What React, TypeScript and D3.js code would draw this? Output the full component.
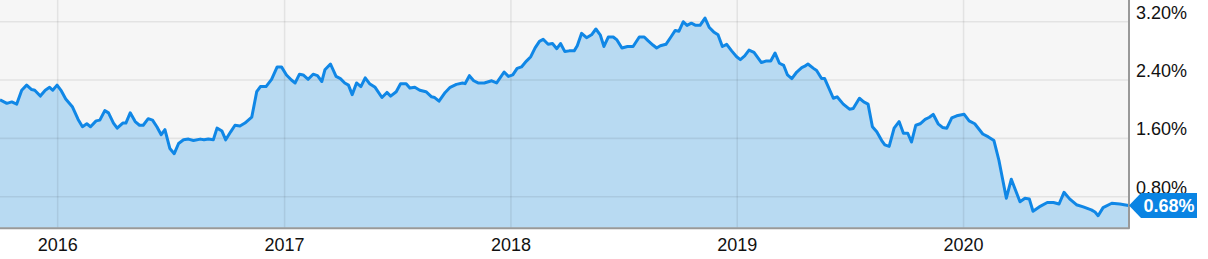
import React from "react";
import * as d3 from "d3";

const dates: string[] = [
  "2015-09-30","2015-10-11","2015-10-19","2015-10-27","2015-11-04","2015-11-12","2015-11-20","2015-11-25","2015-12-04","2015-12-12","2015-12-19","2015-12-24","2015-12-31",
  "2016-01-07","2016-01-14","2016-01-25","2016-02-03","2016-02-10","2016-02-17","2016-02-23","2016-03-03","2016-03-09","2016-03-17","2016-03-23","2016-03-31","2016-04-06","2016-04-15","2016-04-20","2016-04-27","2016-05-05","2016-05-12","2016-05-18","2016-05-26","2016-06-02","2016-06-09","2016-06-16","2016-06-22","2016-06-30","2016-07-07","2016-07-14","2016-07-22","2016-07-30","2016-08-07","2016-08-18","2016-08-24","2016-08-31","2016-09-08","2016-09-14","2016-09-22","2016-09-28","2016-10-06","2016-10-13","2016-10-21","2016-10-29","2016-11-09","2016-11-17","2016-11-23","2016-12-02","2016-12-11","2016-12-20","2016-12-27",
  "2017-01-04","2017-01-12","2017-01-18","2017-01-25","2017-01-31","2017-02-08","2017-02-16","2017-02-23","2017-03-02","2017-03-07","2017-03-16","2017-03-25","2017-04-01","2017-04-08","2017-04-14","2017-04-20","2017-04-27","2017-05-04","2017-05-11","2017-05-18","2017-05-27","2017-06-07","2017-06-15","2017-06-21","2017-06-30","2017-07-07","2017-07-16","2017-07-22","2017-07-30","2017-08-07","2017-08-17","2017-08-26","2017-08-31","2017-09-07","2017-09-17","2017-09-25","2017-10-05","2017-10-15","2017-10-19","2017-10-26","2017-11-02","2017-11-09","2017-11-19","2017-12-01","2017-12-09","2017-12-21","2017-12-28",
  "2018-01-04","2018-01-11","2018-01-18","2018-01-26","2018-02-02","2018-02-09","2018-02-16","2018-02-22","2018-03-02","2018-03-09","2018-03-16","2018-03-22","2018-03-29","2018-04-05","2018-04-13","2018-04-18","2018-04-25","2018-05-03","2018-05-11","2018-05-18","2018-05-25","2018-05-31","2018-06-07","2018-06-15","2018-06-21","2018-06-29","2018-07-08","2018-07-17","2018-07-27","2018-08-04","2018-08-10","2018-08-18","2018-08-24","2018-08-30","2018-09-08","2018-09-16","2018-09-23","2018-09-29","2018-10-06","2018-10-12","2018-10-19","2018-10-26","2018-11-02","2018-11-10","2018-11-17","2018-11-24","2018-12-01","2018-12-08","2018-12-15","2018-12-23","2018-12-31",
  "2019-01-06","2019-01-13","2019-01-20","2019-01-28","2019-02-09","2019-02-16","2019-02-24","2019-03-03","2019-03-10","2019-03-17","2019-03-23","2019-03-30","2019-04-07","2019-04-15","2019-04-20","2019-04-25","2019-05-04","2019-05-09","2019-05-17","2019-05-22","2019-06-05","2019-06-11","2019-06-21","2019-07-01","2019-07-07","2019-07-17","2019-07-24","2019-07-31","2019-08-07","2019-08-14","2019-08-22","2019-08-27","2019-09-03","2019-09-11","2019-09-19","2019-09-26","2019-10-03","2019-10-09","2019-10-16","2019-10-23","2019-10-31","2019-11-07","2019-11-13","2019-11-21","2019-11-28","2019-12-05","2019-12-13","2019-12-21",
  "2020-01-02","2020-01-10","2020-01-19","2020-02-01","2020-02-10","2020-02-19","2020-02-27","2020-03-10","2020-03-18","2020-04-01","2020-04-09","2020-04-16","2020-04-22","2020-05-02","2020-05-15","2020-05-25","2020-06-03","2020-06-11","2020-06-20","2020-07-01","2020-07-12","2020-07-25","2020-07-31","2020-08-05","2020-08-13","2020-08-27","2020-09-09","2020-09-23",
];

const yields: number[] = [
  2.13,2.08,2.10,2.07,2.26,2.33,2.27,2.26,2.18,2.26,2.30,2.26,2.33,
  2.25,2.14,2.03,1.86,1.76,1.80,1.76,1.84,1.85,1.98,1.95,1.81,1.74,1.81,1.81,1.95,1.83,1.78,1.78,1.87,1.85,1.76,1.65,1.72,1.46,1.39,1.53,1.58,1.59,1.57,1.59,1.58,1.59,1.58,1.74,1.70,1.58,1.69,1.78,1.77,1.81,1.89,2.24,2.31,2.31,2.41,2.58,2.58,
  2.47,2.40,2.36,2.48,2.47,2.41,2.48,2.46,2.38,2.54,2.62,2.45,2.42,2.36,2.33,2.20,2.36,2.31,2.43,2.35,2.30,2.16,2.23,2.18,2.24,2.35,2.35,2.29,2.30,2.26,2.24,2.17,2.16,2.11,2.23,2.30,2.34,2.36,2.35,2.46,2.39,2.36,2.36,2.39,2.36,2.51,2.45,
  2.47,2.56,2.58,2.66,2.72,2.84,2.93,2.96,2.89,2.90,2.83,2.90,2.79,2.80,2.80,2.87,3.04,2.98,3.02,3.10,3.02,2.86,2.99,2.99,2.95,2.84,2.86,2.86,2.99,2.99,2.94,2.88,2.84,2.87,2.89,2.99,3.08,3.07,3.20,3.15,3.18,3.15,3.15,3.25,3.12,3.06,3.02,2.86,2.89,2.80,2.72,
  2.68,2.73,2.81,2.78,2.64,2.66,2.66,2.77,2.63,2.60,2.47,2.42,2.51,2.57,2.59,2.62,2.56,2.53,2.42,2.42,2.15,2.17,2.07,2.00,2.01,2.15,2.10,2.07,1.76,1.69,1.57,1.51,1.49,1.74,1.83,1.67,1.67,1.55,1.78,1.80,1.86,1.89,1.93,1.80,1.75,1.74,1.88,1.91,
  1.93,1.84,1.80,1.66,1.62,1.57,1.30,0.78,1.04,0.73,0.78,0.77,0.60,0.66,0.72,0.72,0.70,0.86,0.77,0.69,0.66,0.62,0.59,0.54,0.65,0.71,0.70,0.68,
];

const yTicks: number[] = [0.8, 1.6, 2.4, 3.2];
const xTickYears: number[] = [2016, 2017, 2018, 2019, 2020];
const xDomain: string[] = ["2015-09-30", "2020-09-23"];
const yDomain: number[] = [0.375, 3.4976];
const lastLabel = "0.68%";

const W = 1208;
const H = 259;
const plotW = 1128.5;
const plotH = 227.7;
const FONT = "'Liberation Sans', Arial, sans-serif";

export default function App() {
  const parse = d3.utcParse("%Y-%m-%d");
  const data = dates.map((d, i) => ({ date: parse(d) as Date, v: yields[i] }));
  const x = d3.scaleUtc().domain(xDomain.map((d) => parse(d) as Date)).range([0, plotW]);
  const y = d3.scaleLinear().domain(yDomain).range([plotH, 0]);

  const area = d3.area<{ date: Date; v: number }>()
    .x((d) => x(d.date))
    .y0(plotH)
    .y1((d) => y(d.v));
  const line = d3.line<{ date: Date; v: number }>()
    .x((d) => x(d.date))
    .y((d) => y(d.v));

  const last = data[data.length - 1];
  const ly = y(last.v);
  const bx = plotW + 0.5;
  const badge = `M${bx},${ly} L${bx + 12},${ly - 12.5} L${W - 11},${ly - 12.5} L${W - 11},${ly + 12.5} L${bx + 12},${ly + 12.5} Z`;

  return (
    <svg width={W} height={H} style={{ position: "absolute", left: 0, top: 0, background: "#fff" }}>
      <rect x={0} y={0} width={plotW} height={plotH} fill="#f6f6f6" />
      <path d={area(data) || ""} fill="#b8daf2" />
      {yTicks.map((t) => (
        <line key={t} x1={0} x2={plotW} y1={y(t)} y2={y(t)} stroke="#000" strokeOpacity={0.075} strokeWidth={1.6} />
      ))}
      {xTickYears.map((yr) => {
        const xx = x(new Date(Date.UTC(yr, 0, 1)));
        return <line key={yr} x1={xx} x2={xx} y1={0} y2={plotH} stroke="#000" strokeOpacity={0.075} strokeWidth={1.6} />;
      })}
      <path d={line(data) || ""} fill="none" stroke="#1087e6" strokeWidth={3} strokeLinejoin="round" />
      <line x1={0} x2={plotW + 1} y1={plotH + 0.5} y2={plotH + 0.5} stroke="#999" strokeWidth={2} />
      <line x1={plotW + 0.5} x2={plotW + 0.5} y1={0} y2={plotH + 1} stroke="#999" strokeWidth={2} />
      {yTicks.map((t) => (
        <text key={t} x={1136} y={y(t) - 3} fontFamily={FONT} fontSize={18} fill="#111">
          {t.toFixed(2) + "%"}
        </text>
      ))}
      {xTickYears.map((yr) => (
        <text key={yr} x={x(new Date(Date.UTC(yr, 0, 1)))} y={250.5} textAnchor="middle" fontFamily={FONT} fontSize={18} fill="#111">
          {String(yr)}
        </text>
      ))}
      <path d={badge} fill="#0a84e3" />
      <text x={(bx + 12 + W - 11) / 2} y={ly + 6.5} textAnchor="middle" fontFamily={FONT} fontSize={18} fontWeight="bold" fill="#fff">
        {lastLabel}
      </text>
    </svg>
  );
}
